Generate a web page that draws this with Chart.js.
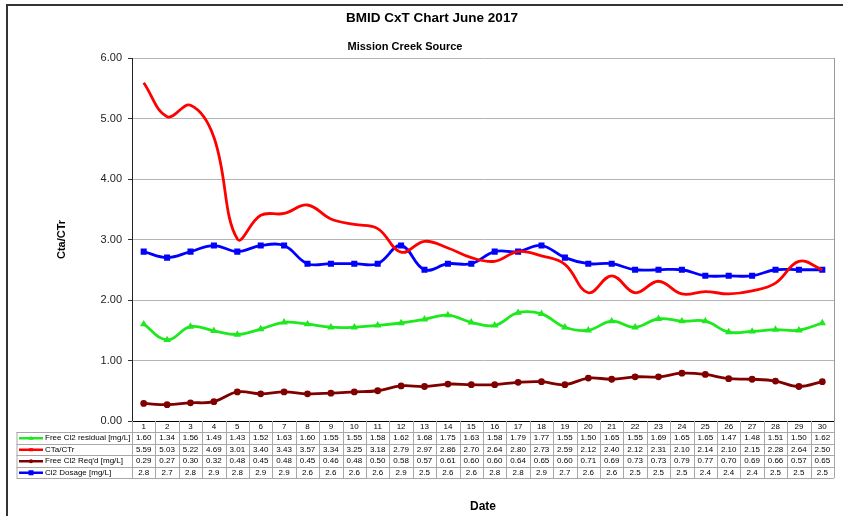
<!DOCTYPE html>
<html>
<head>
<meta charset="utf-8">
<title>BMID CxT Chart June 2017</title>
<script src="https://cdn.jsdelivr.net/npm/chart.js@4.4.0/dist/chart.umd.min.js"></script>
<style>
  body { margin: 0; background: #fff; }
  canvas { display: block; }
</style>
</head>
<body>
<canvas id="mycanvas" width="843" height="516"></canvas>
<script>
// day of month
var days = ["1","2","3","4","5","6","7","8","9","10","11","12","13","14","15",
            "16","17","18","19","20","21","22","23","24","25","26","27","28","29","30"];

var free_cl2_residual = [1.60,1.34,1.56,1.49,1.43,1.52,1.63,1.60,1.55,1.55,1.58,1.62,1.68,1.75,1.63,
                         1.58,1.79,1.77,1.55,1.50,1.65,1.55,1.69,1.65,1.65,1.47,1.48,1.51,1.50,1.62];
var cta_ctr = [5.59,5.03,5.22,4.69,3.01,3.40,3.43,3.57,3.34,3.25,3.18,2.79,2.97,2.86,2.70,
               2.64,2.80,2.73,2.59,2.12,2.40,2.12,2.31,2.10,2.14,2.10,2.15,2.28,2.64,2.50];
var free_cl2_reqd = [0.29,0.27,0.30,0.32,0.48,0.45,0.48,0.45,0.46,0.48,0.50,0.58,0.57,0.61,0.60,
                     0.60,0.64,0.65,0.60,0.71,0.69,0.73,0.73,0.79,0.77,0.70,0.69,0.66,0.57,0.65];
var cl2_dosage = [2.8,2.7,2.8,2.9,2.8,2.9,2.9,2.6,2.6,2.6,2.6,2.9,2.5,2.6,2.6,
                  2.8,2.8,2.9,2.7,2.6,2.6,2.5,2.5,2.5,2.4,2.4,2.4,2.5,2.5,2.5];

var yTicks = ["0.00","1.00","2.00","3.00","4.00","5.00","6.00"];

var FONT = "'Liberation Sans', Arial, sans-serif";

// draws frame, titles and the data table under the plot
var tablePlugin = {
  id: 'tablePlugin',
  beforeDraw: function(chart) {
    var ctx = chart.ctx;
    ctx.save();
    ctx.strokeStyle = "#333";
    ctx.lineWidth = 2;
    ctx.beginPath();
    ctx.moveTo(7, 516);
    ctx.lineTo(7, 5);
    ctx.lineTo(843, 5);
    ctx.stroke();
    ctx.restore();
  },
  afterDraw: function(chart) {
    var ctx = chart.ctx;
    var area = chart.chartArea;
    var xs = chart.scales.x;
    var n = days.length;
    var colW = (area.right - area.left) / n;
    var rows = [432, 443.5, 455, 466.5, 478];
    var left = 16.5;

    ctx.save();
    // titles
    ctx.fillStyle = "#000";
    ctx.textAlign = "center";
    ctx.textBaseline = "middle";
    ctx.font = "bold 13.5px " + FONT;
    ctx.fillText("BMID CxT Chart June 2017", 432, 18);
    ctx.font = "bold 11px " + FONT;
    ctx.fillText("Mission Creek Source", 405, 47);

    // plot right border
    ctx.strokeStyle = "#999";
    ctx.lineWidth = 1;
    ctx.beginPath();
    ctx.moveTo(Math.round(area.right) + 0.5, area.top);
    ctx.lineTo(Math.round(area.right) + 0.5, area.bottom);
    ctx.stroke();

    // table grid
    ctx.strokeStyle = "#a8a8a8";
    ctx.beginPath();
    for (var r = 0; r < rows.length; r++) {
      ctx.moveTo(left, Math.round(rows[r]) + 0.5);
      ctx.lineTo(area.right, Math.round(rows[r]) + 0.5);
    }
    ctx.moveTo(left + 0.5, rows[0]);
    ctx.lineTo(left + 0.5, rows[4]);
    for (var c = 0; c <= n; c++) {
      var x = Math.round(area.left + c * colW) + 0.5;
      ctx.moveTo(x, area.bottom);
      ctx.lineTo(x, rows[4]);
    }
    ctx.stroke();

    // legend keys and values
    var sets = chart.data.datasets;
    for (var k = 0; k < sets.length; k++) {
      var ds = sets[k];
      var cy = (rows[k] + rows[k + 1]) / 2 + 0.5;
      ctx.strokeStyle = ds.borderColor;
      ctx.fillStyle = ds.borderColor;
      ctx.lineWidth = 2.5;
      ctx.beginPath();
      ctx.moveTo(19, cy);
      ctx.lineTo(43, cy);
      ctx.stroke();
      var mx = 31;
      ctx.beginPath();
      if (ds.pointStyle === 'triangle') {
        ctx.moveTo(mx, cy - 2.5); ctx.lineTo(mx + 2.5, cy + 1.5); ctx.lineTo(mx - 2.5, cy + 1.5);
      } else if (ds.pointStyle === 'rect') {
        ctx.rect(mx - 2.5, cy - 2.5, 5, 5);
      } else if (ds.pointStyle === 'circle') {
        ctx.arc(mx, cy, 2, 0, Math.PI * 2);
      } else {
        ctx.rect(mx - 2, cy - 1.5, 4, 3);
      }
      ctx.fill();

      ctx.fillStyle = "#000";
      ctx.font = "8px " + FONT;
      ctx.textAlign = "left";
      ctx.fillText(ds.label, 45, cy);

      ctx.textAlign = "center";
      for (var i = 0; i < ds.data.length; i++) {
        ctx.fillText(ds.data[i].toFixed(ds.decimals), xs.getPixelForValue(i), cy);
      }
    }
    ctx.restore();
  }
};

var chartdata = {
  labels: days,
  datasets: [
    {
      label: "Free Cl2 residual [mg/L]",
      decimals: 2,
      borderColor: "#1ee81e",
      backgroundColor: "#1ee81e",
      borderWidth: 2.8,
      tension: 0.4,
      pointStyle: 'triangle',
      pointRadius: 1.5,
      data: free_cl2_residual
    },
    {
      label: "CTa/CTr",
      decimals: 2,
      borderColor: "#ff0000",
      backgroundColor: "#ff0000",
      borderWidth: 2.8,
      tension: 0.4,
      pointStyle: 'dash',
      pointRadius: 0,
      data: cta_ctr
    },
    {
      label: "Free Cl2 Req'd [mg/L]",
      decimals: 2,
      borderColor: "#800000",
      backgroundColor: "#800000",
      borderWidth: 2.8,
      tension: 0.4,
      pointStyle: 'circle',
      pointRadius: 2,
      data: free_cl2_reqd
    },
    {
      label: "Cl2 Dosage [mg/L]",
      decimals: 1,
      borderColor: "#0000ff",
      backgroundColor: "#0000ff",
      borderWidth: 2.8,
      tension: 0.4,
      pointStyle: 'rect',
      pointRadius: 2.3,
      data: cl2_dosage
    }
  ]
};

var ctx = document.getElementById("mycanvas");

var LineGraph = new Chart(ctx, {
  type: 'line',
  data: chartdata,
  plugins: [tablePlugin],
  options: {
    responsive: false,
    animation: false,
    devicePixelRatio: 1,
    layout: { padding: { left: 50, top: 58, right: 9, bottom: 0 } },
    plugins: {
      legend: { display: false },
      tooltip: { enabled: false }
    },
    scales: {
      x: {
        offset: true,
        grid: { display: true, drawOnChartArea: false, drawTicks: false, color: 'rgba(0,0,0,0)' },
        border: { color: '#000', width: 1 },
        ticks: { font: { size: 8, family: FONT }, color: '#000', padding: 1, maxRotation: 0, autoSkip: false },
        title: { display: true, text: 'Date', font: { size: 12, weight: 'bold', family: FONT }, color: '#000', padding: { top: 0, bottom: 2 } },
        afterFit: function(scale) { scale.height = 95; }
      },
      y: {
        min: 0,
        max: 6,
        ticks: {
          stepSize: 1,
          font: { size: 11, family: FONT },
          color: '#222',
          padding: 6,
          callback: function(v, i) { return yTicks[i]; }
        },
        grid: { color: '#b4b4b4', tickColor: '#333', tickLength: 4 },
        border: { color: '#222', width: 1 },
        title: { display: true, text: 'Cta/CTr', font: { size: 11, weight: 'bold', family: FONT }, color: '#000', padding: { top: 5, bottom: 0 } },
        afterFit: function(scale) { scale.width = 82; }
      }
    }
  }
});
</script>
</body>
</html>
